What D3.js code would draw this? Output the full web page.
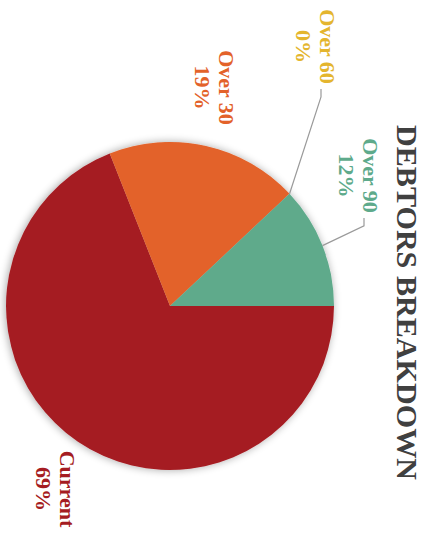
<!DOCTYPE html>
<html>
<head>
<meta charset="utf-8">
<script src="https://cdn.jsdelivr.net/npm/d3@7"></script>
<style>
  html, body { margin: 0; padding: 0; background: #fff; }
  svg { display: block; }
</style>
</head>
<body>
<svg id="chart" width="426" height="536"></svg>
<script>
// Debtor ageing buckets and their share of the total (%)
const categories = ["Current", "Over 30", "Over 60", "Over 90"];
const shares = [69, 19, 0, 12];
const percentLabels = ["69%", "19%", "0%", "12%"];
const sliceColors = ["#a51c22", "#e3622a", "#e4b52e", "#5eaa8b"];

// Chart is laid out in a 536 x 426 landscape frame and turned a quarter turn clockwise
const W = 426, H = 536;
const cx = 306, cy = 256, radius = 164;

// Label block layout: [centre x, first baseline y, draw leader line]
const labelLayout = {
  "Current": [489, 366, false],
  "Over 30": [87.5, 207, false],
  "Over 60": [46.5, 106, true],
  "Over 90": [175.5, 63, true]
};

const svg = d3.select("#chart");

const defs = svg.append("defs");
const shadow = defs.append("filter")
  .attr("id", "pieShadow")
  .attr("x", "-20%").attr("y", "-20%")
  .attr("width", "140%").attr("height", "140%");
shadow.append("feGaussianBlur").attr("in", "SourceAlpha").attr("stdDeviation", 4).attr("result", "blur");
shadow.append("feOffset").attr("in", "blur").attr("dx", 0).attr("dy", 1).attr("result", "off");
shadow.append("feComponentTransfer").attr("in", "off").attr("result", "soft")
  .append("feFuncA").attr("type", "linear").attr("slope", 0.35);
const merge = shadow.append("feMerge");
merge.append("feMergeNode").attr("in", "soft");
merge.append("feMergeNode").attr("in", "SourceGraphic");

const frame = svg.append("g")
  .attr("transform", `translate(${W},0) rotate(90)`);

// Title
frame.append("text")
  .attr("x", 302.5)
  .attr("y", 29)
  .attr("text-anchor", "middle")
  .attr("font-family", "'Liberation Serif', 'Times New Roman', serif")
  .attr("font-weight", "bold")
  .attr("font-size", 30)
  .attr("textLength", 355)
  .attr("lengthAdjust", "spacingAndGlyphs")
  .attr("fill", "#404040")
  .text("DEBTORS BREAKDOWN");

const color = d3.scaleOrdinal().domain(categories).range(sliceColors);

const data = categories.map((c, i) => ({ name: c, value: shares[i], label: percentLabels[i] }));

const pie = d3.pie().sort(null).value(d => d.value).startAngle(0).endAngle(2 * Math.PI);
const arcs = pie(data);

const arc = d3.arc().innerRadius(0).outerRadius(radius);

const pieG = frame.append("g")
  .attr("transform", `translate(${cx},${cy})`)
  .attr("filter", "url(#pieShadow)");

pieG.selectAll("path")
  .data(arcs.filter(a => a.value > 0))
  .join("path")
  .attr("d", arc)
  .attr("fill", d => color(d.data.name));

// Labels
const labelFont = "'Liberation Serif', 'Times New Roman', serif";
const lineGap = 24;

arcs.forEach(a => {
  const [lx, ly, leader] = labelLayout[a.data.name];
  const t = frame.append("text")
    .attr("text-anchor", "middle")
    .attr("font-family", labelFont)
    .attr("font-weight", "bold")
    .attr("font-size", 22)
    .attr("fill", color(a.data.name));
  t.append("tspan").attr("x", lx).attr("y", ly).text(a.data.name);
  t.append("tspan").attr("x", lx).attr("y", ly + lineGap).text(a.data.label);

  if (leader) {
    const halfW = t.node().getBBox().width / 2;
    const mid = (a.startAngle + a.endAngle) / 2;
    const edge = [cx + radius * Math.sin(mid), cy - radius * Math.cos(mid)];
    const endX = lx + halfW + 5;
    const elbowX = endX + 8;
    const elbowY = ly - 1;
    frame.append("path")
      .attr("d", d3.line()([edge, [elbowX, elbowY], [endX, elbowY]]))
      .attr("fill", "none")
      .attr("stroke", "#9a9a9a")
      .attr("stroke-width", 1.2);
  }
});
</script>
</body>
</html>
